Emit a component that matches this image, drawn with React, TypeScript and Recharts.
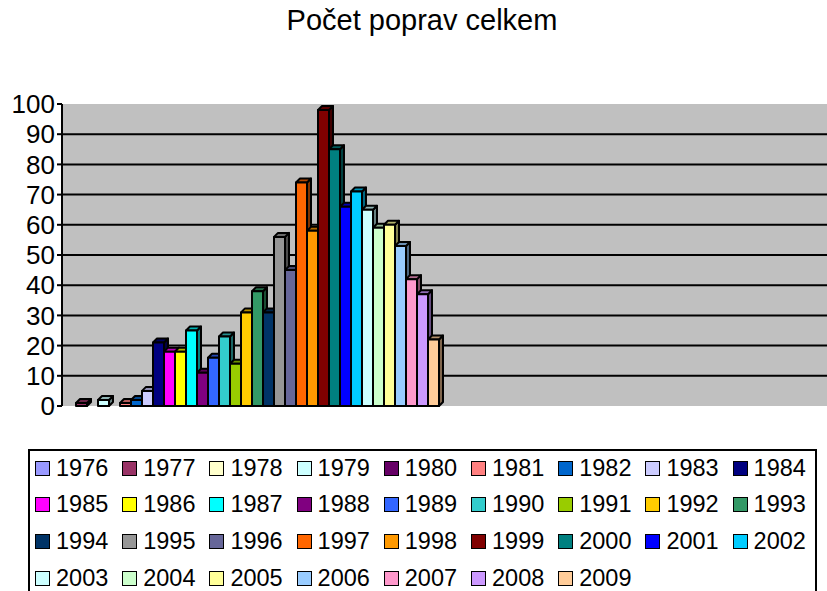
import { BarChart, Bar, XAxis, YAxis, CartesianGrid, Legend } from "recharts";

const years = [
  "1976", "1977", "1978", "1979", "1980", "1981", "1982", "1983", "1984",
  "1985", "1986", "1987", "1988", "1989", "1990", "1991", "1992", "1993",
  "1994", "1995", "1996", "1997", "1998", "1999", "2000", "2001", "2002",
  "2003", "2004", "2005", "2006", "2007", "2008", "2009",
];

const executions = [
  0, 1, 0, 2, 0, 1, 2, 5, 21, 18, 18, 25, 11, 16, 23, 14, 31, 38, 31, 56, 45,
  74, 58, 98, 85, 66, 71, 65, 59, 60, 53, 42, 37, 22,
];

const colors = [
  "#9999FF", "#993366", "#FFFFCC", "#CCFFFF", "#660066", "#FF8080", "#0066CC",
  "#CCCCFF", "#000080", "#FF00FF", "#FFFF00", "#00FFFF", "#800080", "#3366FF",
  "#33CCCC", "#99CC00", "#FFCC00", "#339966", "#003366", "#969696", "#666699",
  "#FF6600", "#FF9900", "#800000", "#008080", "#0000FF", "#00CCFF", "#CCFFFF",
  "#CCFFCC", "#FFFF99", "#99CCFF", "#FF99CC", "#CC99FF", "#FFCC99",
];

const yTicks = [0, 10, 20, 30, 40, 50, 60, 70, 80, 90, 100];
const gridValues = [10, 20, 30, 40, 50, 60, 70, 80, 90];

const row: Record<string, number | string> = { name: "celkem" };
years.forEach((y, i) => {
  row["y" + y] = executions[i];
});
const data = [row, { name: "" }];

const FONT = "'Liberation Sans', Arial, sans-serif";

function shade(hex: string, f: number) {
  const n = parseInt(hex.slice(1), 16);
  const ch = [(n >> 16) & 255, (n >> 8) & 255, n & 255].map((c) =>
    Math.max(0, Math.min(255, Math.round(c * f)))
  );
  return `rgb(${ch[0]},${ch[1]},${ch[2]})`;
}

const Bar3D = (props: any) => {
  const { x, y, width, height, fill } = props;
  if (height == null || height <= 0.5) return <g />;
  const d = 4;
  return (
    <g stroke="#000" strokeWidth={2} strokeLinejoin="round">
      <polygon
        points={`${x + width},${y} ${x + width + d},${y - d} ${x + width + d},${y + height - d} ${x + width},${y + height}`}
        fill={shade(fill, 0.5)}
      />
      <polygon
        points={`${x},${y} ${x + d},${y - d} ${x + width + d},${y - d} ${x + width},${y}`}
        fill={shade(fill, 0.7)}
      />
      <rect x={x} y={y} width={width} height={height} fill={fill} />
    </g>
  );
};

const LegendBox = () => (
  <div
    style={{
      position: "absolute",
      left: 28,
      top: 449,
      width: 789,
      height: 160,
      border: "2px solid #000",
      boxSizing: "border-box",
      background: "#fff",
      fontFamily: FONT,
      fontSize: 23.5,
      color: "#000",
    }}
  >
    {years.map((yr, i) => {
      const col = i % 9;
      const r = Math.floor(i / 9);
      return (
        <div
          key={yr}
          style={{
            position: "absolute",
            left: 5 + col * 87.2,
            top: 3 + r * 36.7,
            height: 28,
            display: "flex",
            alignItems: "center",
            whiteSpace: "nowrap",
          }}
        >
          <span
            style={{
              display: "inline-block",
              width: 13,
              height: 13,
              background: colors[i],
              border: "1.5px solid #000",
              marginRight: 6,
            }}
          />
          {yr}
        </div>
      );
    })}
  </div>
);

export default function App() {
  return (
    <div
      style={{
        position: "absolute",
        left: 0,
        top: 0,
        width: 827,
        height: 591,
        overflow: "hidden",
        background: "#fff",
        fontFamily: FONT,
      }}
    >
      <div
        style={{
          position: "absolute",
          top: 4,
          left: 0,
          width: 844,
          textAlign: "center",
          fontSize: 29,
          color: "#000",
        }}
      >
        Počet poprav celkem
      </div>
      <BarChart
        width={840}
        height={591}
        data={data}
        margin={{ top: 104, right: 0, bottom: 185, left: 0 }}
        barCategoryGap={3}
        barGap={0}
      >
        <CartesianGrid
          vertical={false}
          horizontalValues={gridValues}
          stroke="#000"
          strokeWidth={2}
          fill="#C0C0C0"
          fillOpacity={1}
        />
        <XAxis
          dataKey="name"
          tick={false}
          axisLine={{ stroke: "#000", strokeWidth: 2 }}
          tickLine={false}
          height={0}
        />
        <YAxis
          domain={[0, 100]}
          ticks={yTicks}
          interval={0}
          width={62}
          axisLine={{ stroke: "#000", strokeWidth: 2 }}
          tickLine={{ stroke: "#000", strokeWidth: 2 }}
          tickSize={5}
          tickMargin={2}
          tick={{ fill: "#000", fontSize: 26, fontFamily: FONT }}
        />
        <Legend content={() => null} />
        {years.map((yr, i) => (
          <Bar
            key={yr}
            dataKey={"y" + yr}
            name={yr}
            fill={colors[i]}
            shape={Bar3D}
            isAnimationActive={false}
          />
        ))}
      </BarChart>
      <LegendBox />
    </div>
  );
}
